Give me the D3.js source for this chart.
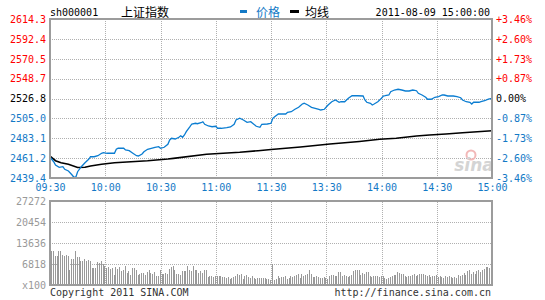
<!DOCTYPE html>
<html>
<head>
<meta charset="utf-8">
<script src="https://d3js.org/d3.v7.min.js"></script>
<style>
  body { margin: 0; background: #fff; }
  text { font-family: "DejaVu Sans Mono", monospace; font-size: 10px; }
  .Cn { font-family: "Noto Sans CJK SC", sans-serif; font-size: 12px; }
</style>
</head>
<body>
<div id="ChartContainer"></div>
<script>
// minute offsets from 09:30 (afternoon continues after 120) and prices
var priceMinutes = [0, 2, 3, 5, 7, 8, 10, 12, 13, 14, 15, 17, 19, 21, 22, 24, 26, 28, 29, 31, 35, 36, 37, 40, 41, 43, 45, 47, 48, 50,
  51, 53, 55, 57, 59, 60, 62, 64, 65, 66, 68, 70, 71, 72, 73, 74, 76, 77, 79, 80, 82, 83, 84, 86, 88, 90, 91, 93, 96, 98,
  100, 101, 103, 105, 107, 109, 110, 112, 114, 115, 118, 120, 121, 122, 124, 128, 129, 131, 133, 135, 137, 138, 140, 142, 144, 146, 147, 149,
  151, 153, 155, 157, 158, 160, 162, 164, 167, 170, 171, 172, 174, 175, 176, 178, 180, 181, 182, 184, 185, 187, 189, 191, 193, 195, 197, 199,
  200, 202, 204, 205, 207, 209, 211, 213, 214, 216, 219, 221, 223, 224, 226, 228, 229, 230, 233, 234, 236, 238, 240]
var priceValues = [2462.5, 2457.3, 2453.7, 2451.2, 2451.8, 2449.0, 2447.1, 2442.7, 2440.2, 2440.2, 2446.3, 2451.8, 2456.2, 2460.0, 2462.8, 2462.8, 2463.9, 2466.6, 2467.2, 2466.6, 2466.6, 2471.0, 2472.1, 2472.1, 2470.2, 2469.4, 2466.6, 2463.9, 2463.6, 2465.8,
  2468.3, 2471.0, 2472.1, 2473.2, 2473.8, 2472.1, 2473.2, 2476.5, 2481.2, 2483.1, 2482.3, 2484.2, 2485.9, 2484.2, 2486.7, 2490.3, 2495.8, 2498.8, 2499.6, 2499.1, 2500.2, 2501.3, 2498.5, 2496.6, 2495.8, 2496.3, 2494.1, 2494.1, 2494.7, 2495.5,
  2498.5, 2503.2, 2505.1, 2503.2, 2500.7, 2501.3, 2499.6, 2496.3, 2495.2, 2498.5, 2498.8, 2499.6, 2505.1, 2506.8, 2509.8, 2509.8, 2511.7, 2512.3, 2515.0, 2517.2, 2520.8, 2521.6, 2519.7, 2517.2, 2516.1, 2515.0, 2514.2, 2515.0,
  2519.7, 2523.3, 2525.2, 2522.7, 2523.3, 2523.3, 2527.1, 2529.9, 2529.9, 2529.6, 2525.2, 2522.7, 2521.6, 2519.7, 2520.8, 2523.3, 2527.1, 2529.6, 2529.9, 2530.7, 2534.3, 2536.2, 2537.0, 2536.2, 2535.1, 2535.1, 2536.2, 2535.4,
  2532.6, 2530.7, 2528.2, 2526.0, 2526.0, 2528.2, 2528.9, 2530.7, 2530.7, 2529.6, 2529.6, 2528.9, 2527.7, 2525.2, 2523.3, 2522.7, 2520.8, 2522.7, 2522.7, 2523.3, 2524.4, 2526.2, 2527.0]

var avgMinutes = [0, 3, 6, 10, 15, 19, 22, 28, 35, 44, 53, 64, 67, 85, 103, 113, 120, 136, 152, 168, 179, 188, 199, 206, 215, 224, 232, 240]
var avgValues = [2463.6, 2458.4, 2456.2, 2454.5, 2451.0, 2451.2, 2452.6, 2454.5, 2456.2, 2457.3, 2458.4, 2460.3, 2461.0, 2465.5, 2467.7, 2469.4,
  2470.7, 2473.5, 2476.8, 2479.6, 2482.0, 2483.1, 2485.6, 2486.7, 2487.8, 2489.2, 2490.3, 2491.4]

// per-minute volume (x100), morning then afternoon
var volMorning = [10900, 10900, 9500, 9300, 11100, 10900, 9800, 9300, 9700, 9500,
  4800, 8500, 8500, 10900, 9100, 9100, 7900, 7900,
  8500, 7900, 8200, 7900, 5500, 5500, 5500, 7400, 7100, 7700,
  6900, 6300, 5500, 5800, 5200, 5500, 3400, 5800, 5200, 5800,
  4400, 5000, 6100, 3900, 4400, 3400, 5500, 5500, 5000, 3400,
  3700, 3900, 3900, 3400, 4100, 5000, 3900, 3700, 4100, 2800,
  2800, 4800, 3600, 3600, 3900, 3700, 5200, 5800, 6100, 4800,
  3700, 3700, 3400, 4400, 4400, 4400, 6300, 5000, 4400,
  6300, 5000, 4800, 3900, 4400, 3900, 4800, 5000, 2600, 2800,
  3000, 2600, 2800, 3000, 3000, 2800, 2600, 2600, 2300, 2600,
  2000, 2300, 2600, 2800, 3600, 3400, 3600, 2000, 3000, 3400,
  2600, 2300, 2800, 2300, 2000, 2300, 2300, 2300, 2300, 2300,
  2000, 2000, 1700]
var volAfternoon = [6900, 1700, 2100, 2800, 2300, 2500, 2500, 2800, 2000, 2300,
  2800, 2500, 2800, 3400, 3600, 2300, 3600, 3000, 3400, 3700,
  5000, 3700, 2600, 2600, 3000, 2600, 2300, 2300, 2500,
  2300, 2000, 3000, 3400, 3400, 3000, 3000, 4100, 4100, 3000,
  3400, 2800, 2600, 3000, 3400, 4400, 5000, 5000, 4800, 3400,
  3900, 3600, 4100, 4100, 2800, 2600, 3000, 2800, 3000, 2600,
  2800, 2800, 2300, 2100, 2300, 2500, 2800, 3400, 3400,
  4100, 3900, 3600, 3600, 2800, 2600, 3000, 2800, 3400,
  3600, 2800, 3400, 3600, 3600, 3700, 3400, 3000, 3400, 2600,
  2800, 2800, 3400, 2600, 2800, 2600, 2300, 2800,
  2600, 2800, 2600, 2300, 2500, 2300, 3400, 3000, 3400, 3900,
  3400, 4400, 4800, 3700, 4100, 3700, 4400, 4800, 4100, 5000,
  5200, 5800, 5800, 5500, 5800]

var priceTicks = [2614.3, 2592.4, 2570.5, 2548.7, 2526.8, 2505.0, 2483.1, 2461.2, 2439.4]
var pctLabels = ["+3.46%", "+2.60%", "+1.73%", "+0.87%", "0.00%", "-0.87%", "-1.73%", "-2.60%", "-3.46%"]
var timeTicks = [0, 30, 60, 90, 120, 150, 180, 210, 240]
var timeLabels = ["09:30", "10:00", "10:30", "11:00", "11:30", "13:30", "14:00", "14:30", "15:00"]
var volTicks = [27272, 20454, 13636, 6818, 0]
var volLabels = ["27272", "20454", "13636", "6818", "x100"]

var fullWidth = 545
var fullHeight = 300
var plot = { left: 50, right: 492, top: 19, bottom: 178 }
var volBox = { top: 201, bottom: 285 }
var red = "#ff0000"
var blue = "#1379c6"
var gridColor = "#b0b0b0"
var borderColor = "#9c9c9c"

var svg = d3.select("#ChartContainer").append("svg")
  .attr("width", fullWidth)
  .attr("height", fullHeight)

var x = d3.scaleLinear().domain([0, 240]).range([plot.left, plot.right])
var y = d3.scaleLinear().domain([2439.4, 2614.3]).range([plot.bottom, plot.top])
var yVol = d3.scaleLinear().domain([0, 27272]).range([volBox.bottom, volBox.top])

var tickColor = i => i < 4 ? red : (i === 4 ? "#000" : blue)

function styleGrid(sel) {
  sel.select(".domain").remove()
  sel.selectAll("line")
    .attr("stroke", gridColor)
    .attr("stroke-dasharray", "1,1")
    .attr("shape-rendering", "crispEdges")
}

// price grid
svg.append("g")
  .attr("transform", `translate(${plot.left},0)`)
  .call(d3.axisLeft(y).tickValues(priceTicks.slice(1, -1)).tickSize(-(plot.right - plot.left)).tickFormat(""))
  .call(styleGrid)
svg.append("g")
  .attr("transform", `translate(0,${plot.bottom})`)
  .call(d3.axisBottom(x).tickValues(timeTicks.slice(1, -1)).tickSize(-(plot.bottom - plot.top)).tickFormat(""))
  .call(styleGrid)

// volume grid
svg.append("g")
  .attr("transform", `translate(${plot.left},0)`)
  .call(d3.axisLeft(yVol).tickValues(volTicks.slice(1, -1)).tickSize(-(plot.right - plot.left)).tickFormat(""))
  .call(styleGrid)
svg.append("g")
  .attr("transform", `translate(0,${volBox.bottom})`)
  .call(d3.axisBottom(x).tickValues(timeTicks.slice(1, -1)).tickSize(-(volBox.bottom - volBox.top)).tickFormat(""))
  .call(styleGrid)

// volume bars
var volumes = volMorning.concat(volAfternoon)
var slot = 240 / volumes.length
svg.append("g").selectAll("rect")
  .data(volumes)
  .enter().append("rect")
  .attr("x", (d, i) => Math.round(x(i * slot)) + 1)
  .attr("y", d => yVol(d))
  .attr("width", 1)
  .attr("height", d => volBox.bottom - yVol(d))
  .attr("fill", "#999")
  .attr("shape-rendering", "crispEdges")

// sina watermark
svg.append("circle")
  .attr("cx", 471).attr("cy", 155).attr("r", 4.5)
  .attr("fill", "none").attr("stroke", "#f2b8b8").attr("stroke-width", 2)
svg.append("text")
  .attr("x", 474).attr("y", 171)
  .attr("text-anchor", "middle")
  .style("font-family", "DejaVu Sans")
  .style("font-size", "17px")
  .style("font-style", "italic")
  .style("font-weight", "bold")
  .attr("fill", "#d4d4d4")
  .text("sina")

// average line
var avgData = avgMinutes.map((m, i) => [m, avgValues[i]])
svg.append("path")
  .datum(avgData)
  .attr("fill", "none")
  .attr("stroke", "#000")
  .attr("stroke-width", 1.6)
  .attr("d", d3.line().x(d => x(d[0])).y(d => y(d[1])))

// price line
var priceData = priceMinutes.map((m, i) => [m, priceValues[i]])
svg.append("path")
  .datum(priceData)
  .attr("fill", "none")
  .attr("stroke", "#0b7dd1")
  .attr("stroke-width", 1.3)
  .attr("d", d3.line().x(d => x(d[0])).y(d => y(d[1])))

// frames
svg.append("rect")
  .attr("x", plot.left).attr("y", plot.top)
  .attr("width", plot.right - plot.left).attr("height", plot.bottom - plot.top)
  .attr("fill", "none").attr("stroke", borderColor).attr("stroke-width", 2)
svg.append("rect")
  .attr("x", plot.left).attr("y", volBox.top)
  .attr("width", plot.right - plot.left).attr("height", volBox.bottom - volBox.top)
  .attr("fill", "none").attr("stroke", borderColor).attr("stroke-width", 2)

// left price axis
var yAxisLeft = svg.append("g")
  .attr("transform", `translate(${plot.left},0)`)
  .call(d3.axisLeft(y).tickValues(priceTicks).tickSize(0).tickPadding(4).tickFormat(d3.format(".1f")))
yAxisLeft.select(".domain").remove()
yAxisLeft.selectAll("text").attr("fill", (d, i) => tickColor(i))

// right percent axis
var yAxisRight = svg.append("g")
  .attr("transform", `translate(${plot.right},0)`)
  .call(d3.axisRight(y).tickValues(priceTicks).tickSize(0).tickPadding(4).tickFormat((d, i) => pctLabels[i]))
yAxisRight.select(".domain").remove()
yAxisRight.selectAll("text").attr("fill", (d, i) => tickColor(i))

// time axis
var xAxis = svg.append("g")
  .attr("transform", `translate(0,${plot.bottom})`)
  .call(d3.axisBottom(x).tickValues(timeTicks).tickSize(0).tickPadding(6).tickFormat((d, i) => timeLabels[i]))
xAxis.select(".domain").remove()
xAxis.selectAll("text").attr("fill", blue)

// volume axis
var volAxis = svg.append("g")
  .attr("transform", `translate(${plot.left},0)`)
  .call(d3.axisLeft(yVol).tickValues(volTicks).tickSize(0).tickPadding(4).tickFormat((d, i) => volLabels[i]))
volAxis.select(".domain").remove()
volAxis.selectAll("text").attr("fill", "#999")

// header
svg.append("text").attr("x", 50).attr("y", 15.5).attr("fill", "#000").text("sh000001")
svg.append("text").attr("class", "Cn").attr("x", 121).attr("y", 16.5).attr("fill", "#000").text("上证指数")
svg.append("rect").attr("x", 240).attr("y", 10).attr("width", 7).attr("height", 3).attr("fill", blue)
svg.append("text").attr("class", "Cn").attr("x", 256).attr("y", 16.5).attr("fill", blue).text("价格")
svg.append("rect").attr("x", 290).attr("y", 10).attr("width", 9).attr("height", 3).attr("fill", "#000")
svg.append("text").attr("class", "Cn").attr("x", 305).attr("y", 16.5).attr("fill", "#000").text("均线")
svg.append("text").attr("x", 490).attr("y", 15.5).attr("text-anchor", "end").attr("fill", "#000").text("2011-08-09 15:00:00")

// footer
svg.append("text").attr("x", 50).attr("y", 296).attr("fill", "#333").text("Copyright 2011 SINA.COM")
svg.append("text").attr("x", 491).attr("y", 296).attr("text-anchor", "end").attr("fill", "#333").text("http://finance.sina.com.cn")
</script>
</body>
</html>
